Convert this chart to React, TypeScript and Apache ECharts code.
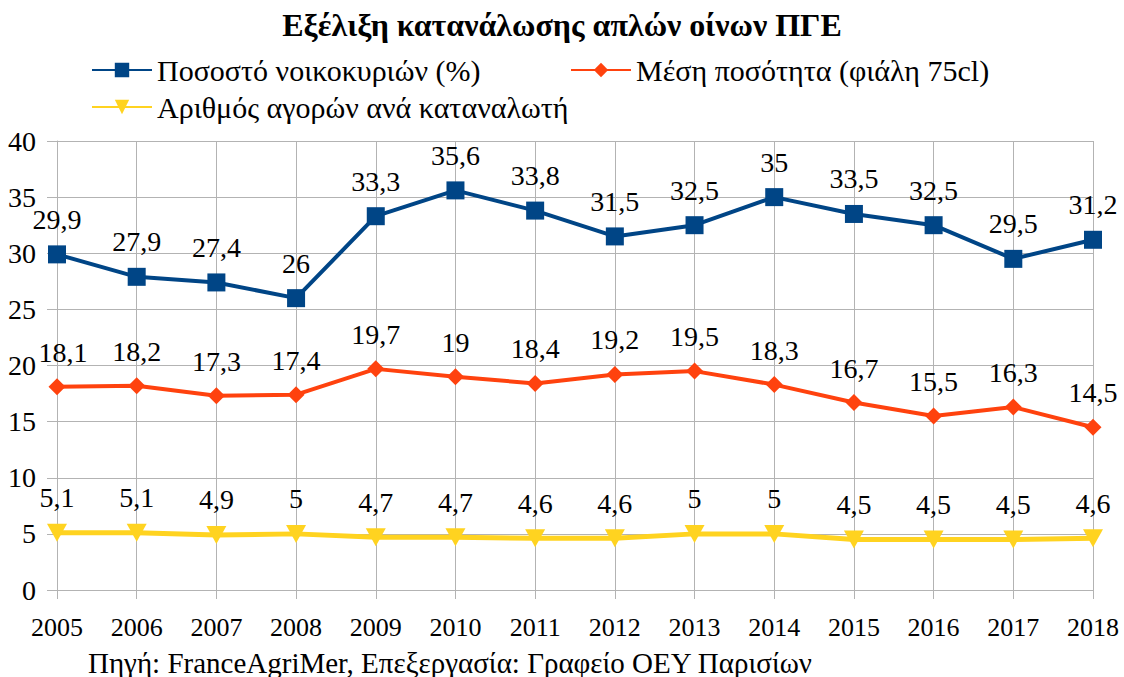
import React, { useEffect, useRef } from "react";
import * as echarts from "echarts";

const years = ["2005", "2006", "2007", "2008", "2009", "2010", "2011", "2012", "2013", "2014", "2015", "2016", "2017", "2018"];
const households = [29.9, 27.9, 27.4, 26, 33.3, 35.6, 33.8, 31.5, 32.5, 35, 33.5, 32.5, 29.5, 31.2];
const avgQuantity = [18.1, 18.2, 17.3, 17.4, 19.7, 19, 18.4, 19.2, 19.5, 18.3, 16.7, 15.5, 16.3, 14.5];
const purchases = [5.1, 5.1, 4.9, 5, 4.7, 4.7, 4.6, 4.6, 5, 5, 4.5, 4.5, 4.5, 4.6];

const seriesNames = [
  "Ποσοστό νοικοκυριών (%)",
  "Μέση ποσότητα (φιάλη 75cl)",
  "Αριθμός αγορών ανά καταναλωτή",
];
const titleText = "Εξέλιξη κατανάλωσης απλών οίνων ΠΓΕ";
const sourceText = "Πηγή: FranceAgriMer, Επεξεργασία: Γραφείο ΟΕΥ Παρισίων";

const FONT = "Liberation Serif";
const GRID = "#b3b3b3";

export default function App() {
  const ref = useRef<HTMLDivElement>(null);
  useEffect(() => {
    if (!ref.current) return;
    const chart = echarts.init(ref.current, undefined, { renderer: "svg" });
    const fmt = (p: any) => String(p.value).replace(".", ",");
    const label = (dist: number) => ({
      show: true,
      position: "top",
      distance: dist,
      formatter: fmt,
      fontFamily: FONT,
      fontSize: 28,
      color: "#000",
    });
    const legendBase = {
      itemWidth: 60,
      itemHeight: 18,
      textStyle: { fontFamily: FONT, fontSize: 30, color: "#000" },
    };
    // first orange label nudged right so it sits beside the "20" tick label, as in the reference
    const orangeData = avgQuantity.map((v, i) =>
      i === 0 ? { value: v, label: { offset: [6, 0] } } : v
    );
    chart.setOption({
      animation: false,
      textStyle: { fontFamily: FONT },
      title: {
        text: titleText,
        left: "center",
        top: 4,
        textStyle: { fontFamily: FONT, fontSize: 32, fontWeight: "bold", color: "#000" },
      },
      legend: [
        { ...legendBase, data: [seriesNames[0]], left: 86, top: 50 },
        { ...legendBase, data: [seriesNames[1]], left: 565, top: 50 },
        { ...legendBase, data: [seriesNames[2]], left: 86, top: 87 },
      ],
      grid: { left: 57, right: 31, top: 141, bottom: 87, containLabel: false },
      xAxis: {
        type: "category",
        data: years,
        boundaryGap: false,
        axisLine: { lineStyle: { color: GRID, width: 1 } },
        axisTick: { show: true, length: 9, lineStyle: { color: GRID } },
        splitLine: { show: true, lineStyle: { color: GRID, width: 1 } },
        axisLabel: { fontFamily: FONT, fontSize: 26, color: "#000", margin: 24 },
      },
      yAxis: {
        type: "value",
        min: 0,
        max: 40,
        interval: 5,
        axisLine: { show: true, lineStyle: { color: GRID, width: 1 } },
        axisTick: { show: true, length: 10, lineStyle: { color: GRID } },
        splitLine: { show: true, lineStyle: { color: GRID, width: 1 } },
        axisLabel: { fontFamily: FONT, fontSize: 28, color: "#000", margin: 21 },
      },
      series: [
        {
          name: seriesNames[0],
          type: "line",
          data: households,
          color: "#004586",
          lineStyle: { width: 4, color: "#004586" },
          symbol: "rect",
          symbolSize: 18,
          itemStyle: { color: "#004586" },
          label: label(12),
        },
        {
          name: seriesNames[1],
          type: "line",
          data: orangeData,
          color: "#ff420e",
          lineStyle: { width: 4, color: "#ff420e" },
          symbol: "diamond",
          symbolSize: 17,
          itemStyle: { color: "#ff420e" },
          label: label(12),
        },
        {
          name: seriesNames[2],
          type: "line",
          data: purchases,
          color: "#ffd320",
          lineStyle: { width: 5, color: "#ffd320" },
          symbol: "triangle",
          symbolRotate: 180,
          symbolSize: [20, 18],
          itemStyle: { color: "#ffd320" },
          label: label(12),
        },
      ],
      graphic: [
        {
          type: "text",
          left: 88,
          top: 648,
          style: { text: sourceText, fontFamily: FONT, fontSize: 29, fill: "#000" },
        },
      ],
    });
    return () => chart.dispose();
  }, []);
  return <div ref={ref} style={{ width: 1124, height: 677, position: "absolute", left: 0, top: 0 }} />;
}
